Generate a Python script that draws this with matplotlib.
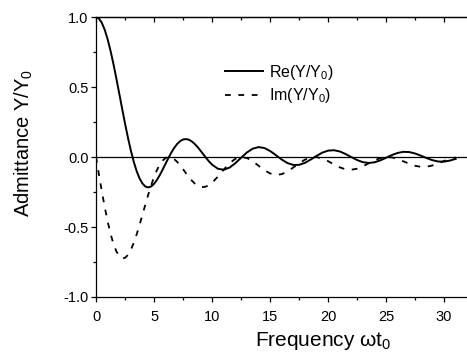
import numpy as np
import matplotlib
matplotlib.use('Agg')
import matplotlib.pyplot as plt
from matplotlib.ticker import MultipleLocator

plt.rcParams['font.family'] = ['Liberation Sans', 'DejaVu Sans']
plt.rcParams['mathtext.default'] = 'regular'

# values
freq = [0, 0.25, 0.5, 0.75, 1.0, 1.25, 1.5, 1.75, 2.0, 2.25, 2.5, 2.75, 3.0,
        3.25, 3.5, 3.75, 4.0, 4.25, 4.5, 4.75, 5.0, 5.25, 5.5, 5.75, 6.0,
        6.25, 6.5, 6.75, 7.0, 7.25, 7.5, 7.75, 8.0, 8.25, 8.5, 8.75, 9.0,
        9.25, 9.5, 9.75, 10.0, 10.5, 11.0, 11.5, 12.0, 12.5, 13.0, 13.5,
        14.0, 14.5, 15.0, 15.5, 16.0, 16.5, 17.0, 17.5, 18.0, 18.5, 19.0,
        19.5, 20.0, 20.5, 21.0, 21.5, 22.0, 22.5, 23.0, 23.5, 24.0, 24.5,
        25.0, 25.5, 26.0, 26.5, 27.0, 27.5, 28.0, 28.5, 29.0, 29.5, 30.0,
        30.5, 31.0]

re_y = [1.0, 0.9896, 0.9589, 0.9089, 0.8415, 0.7592, 0.6650, 0.5623, 0.4546,
        0.3458, 0.2394, 0.1388, 0.0470, -0.0333, -0.1002, -0.1524, -0.1892,
        -0.2106, -0.2172, -0.2104, -0.1918, -0.1636, -0.1283, -0.0887,
        -0.0466, -0.0053, 0.0331, 0.0667, 0.0939, 0.1135, 0.1251, 0.1283,
        0.1237, 0.1118, 0.0939, 0.0714, 0.0458, 0.0188, -0.0079, -0.0328,
        -0.0544, -0.0838, -0.0909, -0.0761, -0.0447, -0.0053, 0.0323,
        0.0595, 0.0708, 0.0645, 0.0434, 0.0133, -0.0180, -0.0431, -0.0566,
        -0.0559, -0.0417, -0.0183, 0.0079, 0.0311, 0.0456, 0.0486, 0.0398,
        0.0218, -0.0004, -0.0216, -0.0368, -0.0425, -0.0377, -0.0241,
        -0.0053, 0.0144, 0.0293, 0.0371, 0.0354, 0.0250, 0.0097, -0.0078,
        -0.0229, -0.0322, -0.0329, -0.0254, -0.0130]

im_y = [0.0, -0.1244, -0.2448, -0.3577, -0.4597, -0.5478, -0.6195, -0.6733,
        -0.7081, -0.7236, -0.7204, -0.6997, -0.6633, -0.6136, -0.5533,
        -0.4855, -0.4134, -0.3403, -0.2691, -0.2026, -0.1433, -0.0929,
        -0.0530, -0.0243, -0.0066, -0.0001, -0.0036, -0.0159, -0.0352,
        -0.0596, -0.0871, -0.1157, -0.1432, -0.1680, -0.1885, -0.2035,
        -0.2123, -0.2146, -0.2102, -0.1998, -0.1839, -0.1405, -0.0905,
        -0.0449, -0.0130, -0.0002, -0.0071, -0.0300, -0.0617, -0.0934,
        -0.1173, -0.1276, -0.1224, -0.1032, -0.0750, -0.0453, -0.0189,
        -0.0032, -0.0006, -0.0105, -0.0296, -0.0527, -0.0737, -0.0876,
        -0.0909, -0.0833, -0.0666, -0.0449, -0.0240, -0.0079, -0.0004,
        -0.0027, -0.0136, -0.0311, -0.0479, -0.0628, -0.0701, -0.0693,
        -0.0603, -0.0445, -0.0282, -0.0120, -0.0027]

fig = plt.figure(figsize=(4.67, 3.58), dpi=100)
# right edge of the frame is cut off in the reference
ax = fig.add_axes([0.2056, 0.1704, 0.82, 0.782])

ax.axhline(0, color='black', lw=0.9)
ax.plot(freq, re_y, color='black', lw=1.4, label='Re(Y/Y$_0$)')
ax.plot(freq, im_y, color='black', lw=1.3, dashes=(3.2, 4.2), label='Im(Y/Y$_0$)')

ax.set_xlim(0, 33)
ax.set_ylim(-1.0, 1.0)
ax.xaxis.set_major_locator(MultipleLocator(5))
ax.xaxis.set_minor_locator(MultipleLocator(2.5))
ax.yaxis.set_major_locator(MultipleLocator(0.5))
ax.yaxis.set_minor_locator(MultipleLocator(0.25))
ax.set_yticks([-1.0, -0.5, 0.0, 0.5, 1.0])
ax.set_yticklabels(['-1.0', '-0.5', '0.0', '0.5', '1.0'])

ax.tick_params(which='both', direction='out', labelsize=10.5, width=0.9, pad=2)
ax.tick_params(which='major', length=3.5)
ax.tick_params(which='minor', length=2)
ax.tick_params(axis='x', pad=6)

# top axis: ticks pointing into the plot
top = ax.secondary_xaxis('top')
top.xaxis.set_major_locator(MultipleLocator(5))
top.xaxis.set_minor_locator(MultipleLocator(2.5))
top.tick_params(which='both', direction='in', labeltop=False, width=0.9)
top.tick_params(which='major', length=3.5)
top.tick_params(which='minor', length=2)

for s in ax.spines.values():
    s.set_linewidth(0.9)
top.spines['top'].set_linewidth(0.9)

ax.set_xlabel('Frequency ωt$_0$', fontsize=15)
ax.set_ylabel('Admittance Y/Y$_0$', fontsize=14.5)
ax.xaxis.set_label_coords(0.593, -0.118)
ax.yaxis.set_label_coords(-0.16, 0.55)

ax.legend(loc='upper left', bbox_to_anchor=(0.482, 0.825),
          bbox_transform=fig.transFigure, frameon=False, fontsize=11.5,
          handlelength=2.4, handletextpad=0.35, labelspacing=0.3,
          borderpad=0, borderaxespad=0)

fig.savefig('out.png', dpi=100)
